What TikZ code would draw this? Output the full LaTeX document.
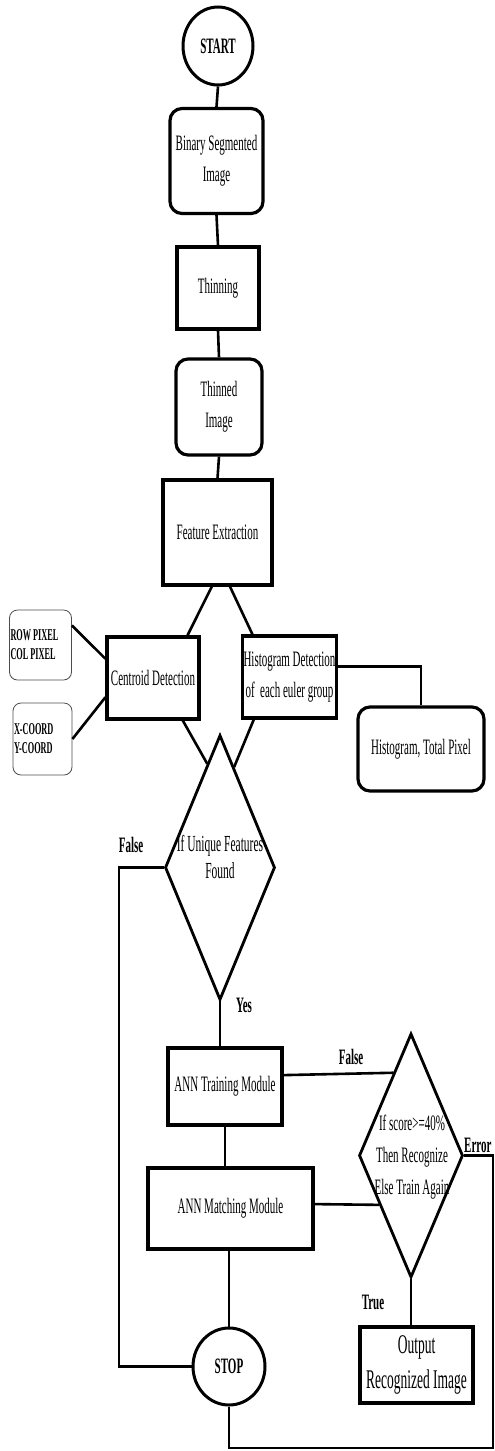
\documentclass[tikz,border=0pt]{standalone}
\usepackage{fontspec}
\setmainfont{Liberation Serif}[FakeStretch = 0.5]
\usetikzlibrary{shapes}

\begin{document}
\begin{tikzpicture}[x = 1pt, y = -1pt]
	\tikzstyle{EdgeStyle} = [line width = 2.6pt]
	\tikzstyle{boxStyle} = [shape = rectangle, draw, line width = 3.2pt, inner sep = 1pt, align = center, font = \fontsize{22}{31}\selectfont]
	\tikzstyle{roundStyle} = [boxStyle, rounded corners = 12pt]
	\tikzstyle{termStyle} = [shape = ellipse, draw, line width = 3pt, inner sep = 0pt, font = \bfseries\fontsize{22}{26}\selectfont]
	\tikzstyle{decisionStyle} = [shape = diamond, draw, line width = 2.8pt, inner sep = 0pt]
	\tikzstyle{noteStyle} = [shape = rectangle, draw = black!70, line width = 0.8pt, rounded corners = 8pt, inner sep = 1pt, align = flush left, font = \bfseries\fontsize{16.5}{19}\selectfont]
	\tikzstyle{textStyle} = [inner sep = 0pt, align = center, font = \fontsize{22}{28}\selectfont]
	\tikzstyle{labelStyle} = [inner sep = 0pt, font = \bfseries\fontsize{22}{26}\selectfont]
	\useasboundingbox (0, 0) rectangle (495, 1451);
	\node[termStyle, minimum width = 70pt, minimum height = 78pt] (v0) at (218, 46) {START};
	\node[roundStyle, minimum width = 93pt, minimum height = 105pt] (v1) at (216.5, 161) {Binary Segmented\\Image};
	\node[boxStyle, minimum width = 82pt, minimum height = 82pt] (v2) at (218, 288) {Thinning};
	\node[roundStyle, minimum width = 86pt, minimum height = 96pt] (v3) at (219, 407) {Thinned\\Image};
	\node[boxStyle, minimum width = 109pt, minimum height = 105pt] (v4) at (217.5, 532.5) {Feature Extraction};
	\node[noteStyle, minimum width = 62pt, minimum height = 70pt, text width = 60pt] (v5) at (40.5, 645) {ROW PIXEL\\COL PIXEL};
	\node[noteStyle, minimum width = 59pt, minimum height = 72pt, text width = 57pt] (v6) at (42.5, 739) {X-COORD\\Y-COORD};
	\node[boxStyle, minimum width = 92pt, minimum height = 82pt] (v7) at (153, 678) {Centroid Detection};
	\node[boxStyle, minimum width = 93pt, minimum height = 82pt] (v8) at (289.5, 677) {Histogram Detection\\of~ each euler group};
	\node[roundStyle, minimum width = 126pt, minimum height = 84pt] (v9) at (421, 749) {Histogram, Total Pixel};
	\node[decisionStyle, minimum width = 110pt, minimum height = 265pt] (v10) at (220, 867.5) {};
	\node[textStyle, font = \fontsize{23}{27}\selectfont] (v11) at (220, 857) {If Unique Features\\Found};
	\node[boxStyle, minimum width = 114pt, minimum height = 77pt] (v12) at (225, 1086.5) {ANN Training Module};
	\node[boxStyle, minimum width = 165pt, minimum height = 81pt] (v13) at (230.5, 1208.5) {ANN Matching Module};
	\node[decisionStyle, minimum width = 104pt, minimum height = 244pt] (v14) at (411, 1155.5) {};
	\node[textStyle, font = \fontsize{22}{32}\selectfont] (v15) at (412, 1157) {If score>=40\%\\Then Recognize\\Else Train Again};
	\node[termStyle, minimum width = 72pt, minimum height = 77pt] (v16) at (229, 1366.5) {STOP};
	\node[boxStyle, minimum width = 113pt, minimum height = 76pt, font = \fontsize{27}{35}\selectfont] (v17) at (416.5, 1365) {Output\\Recognized Image};
	\node[labelStyle] (v18) at (131, 845) {False};
	\node[labelStyle] (v19) at (244, 1005) {Yes};
	\node[labelStyle] (v20) at (351, 1057) {False};
	\node[labelStyle, anchor = west] (v21) at (464, 1145) {Error};
	\node[labelStyle] (v22) at (373, 1302) {True};
	\coordinate (c0) at (119, 867.5);
	\coordinate (c1) at (493, 1448);
	\coordinate (c2) at (493, 1155.5);
	\draw[EdgeStyle] (v0.south) -- (v1.north);
	\draw[EdgeStyle] (v1.south) -- (v2.north);
	\draw[EdgeStyle] (v2.south) -- (v3.north);
	\draw[EdgeStyle] (v3.south) -- (v4.north);
	\draw[EdgeStyle] (v4.264) -- (v7.51);
	\draw[EdgeStyle] (v4.283) -- (v8.131);
	\draw[EdgeStyle] (v5.32) -- (v7.158);
	\draw[EdgeStyle] (v6.east) -- (v7.202);
	\draw[EdgeStyle] (v8.12) -| (v9.north);
	\draw[EdgeStyle] (v7.305) -- (v10.97);
	\draw[EdgeStyle] (v8.230) -- (v10.82);
	\draw[EdgeStyle] (v10.west) -- (c0) |- (v16.west);
	\draw[EdgeStyle] (v10.south) -- (v10.south |- v12.north);
	\draw[EdgeStyle] (v12.south) -- (v12.south |- v13.north);
	\draw[EdgeStyle] (v12.11) -- (v14.102);
	\draw[EdgeStyle] (v13.3) -- (v14.237);
	\draw[EdgeStyle] (v14.south) -- (v14.south |- v17.north);
	\draw[EdgeStyle] (v16.north) -- (v16.north |- v13.south);
	\draw[EdgeStyle] (v16.south) |- (c1) -- (c2) -- (v14.east);
\end{tikzpicture}
\end{document}
